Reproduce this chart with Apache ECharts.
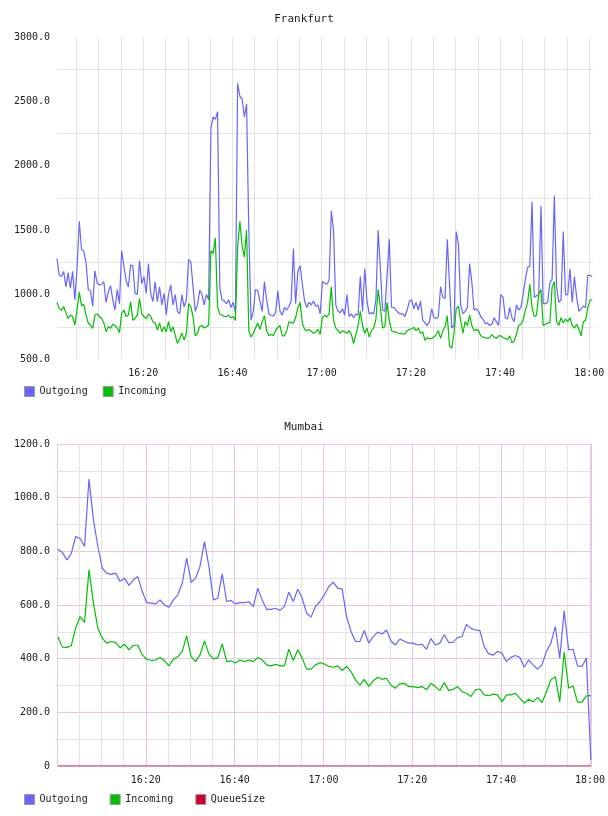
<!DOCTYPE html>
<html>
<head>
<meta charset="utf-8">
<script src="https://cdn.jsdelivr.net/npm/echarts@6/dist/echarts.min.js"></script>
<style>
html,body{margin:0;padding:0;background:#fff}
#main{width:608px;height:816px}
</style>
</head>
<body>
<div id="main"></div>
<script>
const MONO = '"DejaVu Sans Mono", "Liberation Mono", monospace';
const MIN = 60 * 1000;
const day = Date.UTC(2020, 0, 1);
const at = (h, m, s) => day + ((h * 60 + m) * 60 + (s || 0)) * 1000;

// sampling: Frankfurt every 30 s, Mumbai every minute
const frankfurtStart = at(16, 0, 40), frankfurtStep = 30 * 1000;
const mumbaiStart = at(16, 0, 12), mumbaiStep = 60 * 1000;

const frankfurtOutgoing = [
  1280, 1150, 1140, 1180, 1060, 1170, 1050, 1180, 960, 1210,
  1570, 1350, 1340, 1250, 1040, 1030, 910, 1185, 1090, 1075,
  1080, 1100, 940, 1020, 1070, 960, 880, 1040, 930, 1340,
  1220, 1110, 1060, 1230, 1225, 1010, 1000, 1265, 1085, 1140,
  1010, 1240, 1010, 945, 1100, 945, 1060, 920, 1010, 845,
  1000, 1075, 920, 1000, 870, 850, 1000, 905, 960, 1270,
  1255, 1060, 870, 920, 1035, 1000, 920, 1000, 960, 2290,
  2380, 2360, 2420, 1050, 960, 950, 930, 960, 900, 940,
  860, 2640, 2540, 2520, 2380, 2480, 1500, 800, 870, 1040,
  1030, 950, 870, 1100, 960, 850, 840, 835, 860, 1030,
  870, 840, 900, 880, 910, 950, 1355, 930, 1180, 1225,
  1080, 950, 900, 940, 920, 950, 910, 920, 850, 1100,
  1090, 1080, 1110, 1650, 1500, 920, 870, 860, 890, 840,
  1000, 830, 850, 820, 850, 840, 1140, 870, 1200, 950,
  850, 860, 850, 960, 1500, 1200, 880, 870, 1150, 1430,
  900, 900, 880, 860, 850, 850, 830, 880, 950, 960,
  890, 940, 880, 950, 800, 780, 760, 790, 890, 820,
  815, 830, 1060, 980, 970, 1430, 1080, 740, 760, 1490,
  1390, 920, 850, 870, 900, 1240, 1100, 880, 890, 870,
  830, 810, 775, 780, 760, 770, 820, 790, 760, 1000,
  980, 820, 810, 900, 820, 790, 920, 880, 900, 1000,
  1120, 1210, 1220, 1720, 980, 990, 1000, 1690, 930, 930,
  940, 1090, 1120, 1770, 1060, 940, 960, 1490, 1000, 1000,
  1200, 940, 1140, 980, 870, 890, 910, 900, 1150, 1150, 1140
];
const frankfurtIncoming = [
  940, 893, 880, 906, 860, 815, 841, 830, 764, 880,
  1020, 915, 925, 841, 780, 764, 738, 841, 850, 830,
  815, 780, 712, 750, 738, 770, 760, 740, 705, 855,
  880, 830, 841, 944, 800, 815, 841, 970, 850, 830,
  815, 850, 830, 790, 780, 725, 780, 712, 750, 712,
  790, 712, 750, 686, 621, 660, 700, 647, 700, 930,
  906, 828, 680, 700, 751, 760, 740, 751, 764, 1340,
  1320, 1440, 900, 850, 840, 830, 830, 840, 820, 830,
  800, 1370, 1570, 1380, 1290, 1500, 720, 670, 700, 740,
  780, 730, 790, 835, 720, 680, 690, 680, 720, 745,
  760, 680, 680, 720, 790, 780, 780, 820, 900, 940,
  780, 730, 720, 730, 715, 700, 710, 730, 690, 822,
  840, 825, 850, 1060, 800, 740, 720, 700, 720, 710,
  700, 720, 690, 620, 690, 760, 870, 760, 700, 740,
  670, 720, 740, 810, 1040, 900, 740, 750, 940, 800,
  720, 710, 710, 700, 700, 695, 693, 720, 730, 735,
  745, 720, 740, 700, 710, 645, 667, 655, 660, 670,
  690, 720, 660, 720, 750, 835, 600, 585, 700, 890,
  910, 800, 700, 790, 760, 840, 760, 720, 730, 720,
  680, 670, 665, 660, 665, 690, 670, 660, 680, 680,
  665, 660, 650, 680, 625, 640, 690, 760, 770, 800,
  880, 940, 1080, 900, 830, 840, 1000, 1040, 760, 770,
  780, 780, 1060, 1100, 790, 760, 820, 780, 810, 790,
  820, 760, 740, 770, 730, 680, 790, 800, 900, 955, 960
];

const mumbaiOutgoing = [
  808, 796, 768, 791, 855, 848, 818, 1069, 918, 818,
  737, 719, 714, 719, 688, 700, 673, 694, 706, 650,
  609, 607, 604, 619, 600, 592, 619, 638, 681, 775,
  684, 700, 744, 836, 745, 619, 625, 716, 613, 617,
  604, 609, 609, 612, 594, 663, 619, 584, 584, 588,
  580, 594, 648, 613, 659, 625, 570, 555, 594, 613,
  638, 669, 685, 663, 660, 557, 501, 464, 464, 505,
  458, 482, 499, 492, 507, 466, 451, 473, 465, 458,
  458, 451, 454, 435, 475, 451, 458, 489, 460, 461,
  479, 482, 528, 513, 507, 505, 445, 418, 413, 427,
  420, 389, 405, 412, 405, 368, 395, 377, 361, 377,
  427, 458, 520, 402, 578, 433, 435, 373, 371, 402, 22
];
const mumbaiIncoming = [
  482, 443, 442, 448, 514, 557, 535, 731, 607, 514,
  476, 458, 464, 460, 441, 454, 433, 450, 450, 414,
  398, 393, 395, 404, 393, 373, 398, 408, 427, 485,
  408, 389, 414, 466, 418, 399, 403, 455, 389, 392,
  384, 395, 389, 395, 389, 405, 395, 377, 373, 379,
  373, 373, 435, 393, 433, 402, 361, 361, 377, 385,
  380, 371, 368, 373, 356, 371, 352, 321, 301, 323,
  297, 318, 331, 323, 327, 301, 290, 306, 308, 296,
  296, 292, 296, 284, 308, 296, 281, 311, 281, 286,
  296, 277, 271, 259, 284, 287, 265, 262, 268, 265,
  239, 265, 265, 271, 253, 234, 249, 239, 256, 236,
  277, 321, 333, 239, 425, 290, 298, 238, 238, 261, 262
];
const mumbaiQueueSize = [
  0, 0, 0, 0, 0, 0, 0, 0, 0, 0, 0, 0, 0, 0, 0, 0, 0, 0, 0, 0,
  0, 0, 0, 0, 0, 0, 0, 0, 0, 0, 0, 0, 0, 0, 0, 0, 0, 0, 0, 0,
  0, 0, 0, 0, 0, 0, 0, 0, 0, 0, 0, 0, 0, 0, 0, 0, 0, 0, 0, 0,
  0, 0, 0, 0, 0, 0, 0, 0, 0, 0, 0, 0, 0, 0, 0, 0, 0, 0, 0, 0,
  0, 0, 0, 0, 0, 0, 0, 0, 0, 0, 0, 0, 0, 0, 0, 0, 0, 0, 0, 0,
  0, 0, 0, 0, 0, 0, 0, 0, 0, 0, 0, 0, 0, 0, 0, 0, 0, 0, 0, 0, 0
];

const pairs = (start, step, vals) => vals.map((v, i) => [start + i * step, v]);
const pad = n => (n < 10 ? '0' : '') + n;
const hhmm = v => {
  const d = new Date(v);
  if (d.getUTCSeconds() !== 0 || d.getUTCMinutes() % 20 !== 0) return '';
  return pad(d.getUTCHours()) + ':' + pad(d.getUTCMinutes());
};

const textStyle = {fontFamily: MONO, fontSize: 10, color: '#222'};
const GRAY = '#e4e4e4', PINK = '#e6c8e6';

const frankfurtMin = frankfurtStart, frankfurtMax = at(18, 0, 50);
const mumbaiMin = at(16, 0, 0), mumbaiMax = at(18, 0, 24);

// 5-minute time axis, labels every 20 minutes (none at the left edge)
function xAxis(gridIndex, min, max) {
  return {
    type: 'time', gridIndex, min, max,
    minInterval: 6 * MIN, maxInterval: 6 * MIN,
    axisLine: {show: false},
    axisTick: {show: false},
    axisLabel: {formatter: v => (v <= min ? '' : hhmm(v)), ...textStyle, margin: 9},
    splitLine: {show: true, showMinLine: false, showMaxLine: false, lineStyle: {color: GRAY, width: 1}}
  };
}

const chart = echarts.init(document.getElementById('main'));
chart.setOption({
  animation: false,
  useUTC: true,
  title: [
    {text: 'Frankfurt', left: 'center', top: 14, padding: 0, textStyle: {fontFamily: MONO, fontSize: 11, fontWeight: 'normal', color: '#222'}},
    {text: 'Mumbai', left: 'center', top: 422, padding: 0, textStyle: {fontFamily: MONO, fontSize: 11, fontWeight: 'normal', color: '#222'}}
  ],
  legend: [
    {left: 24, top: 386, padding: 0, itemWidth: 10, itemHeight: 10, itemGap: 15, icon: 'rect',
      itemStyle: {borderColor: '#999', borderWidth: 1}, textStyle, data: ['Outgoing', 'Incoming']},
    {left: 24, top: 794, padding: 0, itemWidth: 10, itemHeight: 10, itemGap: 22, icon: 'rect',
      itemStyle: {borderColor: '#999', borderWidth: 1}, textStyle, data: ['Outgoing', 'Incoming', 'QueueSize']}
  ],
  grid: [
    {left: 57, right: 15, top: 37, height: 322},
    {left: 57, right: 15, top: 444, height: 322}
  ],
  xAxis: [
    xAxis(0, frankfurtMin, frankfurtMax),
    xAxis(1, mumbaiMin, mumbaiMax),
    // pink 20-minute lines and the right frame edge of the Mumbai plot
    {type: 'value', gridIndex: 1, min: mumbaiMin, max: mumbaiMax, interval: 20 * MIN,
      axisLine: {show: false}, axisTick: {show: false}, axisLabel: {show: false},
      splitLine: {show: true, lineStyle: {color: PINK, width: 1}}}
  ],
  yAxis: [
    {type: 'value', gridIndex: 0, min: 500, max: 3000, interval: 250,
      axisLine: {show: false}, axisTick: {show: false},
      axisLabel: {...textStyle, margin: 7, formatter: v => (v % 500 === 0 ? v.toFixed(1) : '')},
      splitLine: {lineStyle: {color: ['rgba(0,0,0,0)', GRAY]}}},
    {type: 'value', gridIndex: 1, min: 0, max: 1200, interval: 100,
      axisLine: {show: true, lineStyle: {color: PINK}}, axisTick: {show: false},
      axisLabel: {...textStyle, margin: 7, formatter: v => (v === 0 ? '0' : v % 200 === 0 ? v.toFixed(1) : '')},
      splitLine: {lineStyle: {color: [PINK, GRAY]}}}
  ],
  series: [
    {name: 'Outgoing', xAxisIndex: 0, yAxisIndex: 0, color: '#6666ff', data: pairs(frankfurtStart, frankfurtStep, frankfurtOutgoing)},
    {name: 'Incoming', xAxisIndex: 0, yAxisIndex: 0, color: '#00c000', data: pairs(frankfurtStart, frankfurtStep, frankfurtIncoming)},
    {name: 'Outgoing', xAxisIndex: 1, yAxisIndex: 1, color: '#6666ff', data: pairs(mumbaiStart, mumbaiStep, mumbaiOutgoing)},
    {name: 'Incoming', xAxisIndex: 1, yAxisIndex: 1, color: '#00c000', data: pairs(mumbaiStart, mumbaiStep, mumbaiIncoming)},
    {name: 'QueueSize', xAxisIndex: 1, yAxisIndex: 1, color: '#cc0033', data: pairs(mumbaiStart, mumbaiStep, mumbaiQueueSize)}
  ].map(s => ({
    ...s,
    type: 'line',
    showSymbol: false,
    lineStyle: {width: 1.2},
    emphasis: {disabled: true}
  }))
});
</script>
</body>
</html>
